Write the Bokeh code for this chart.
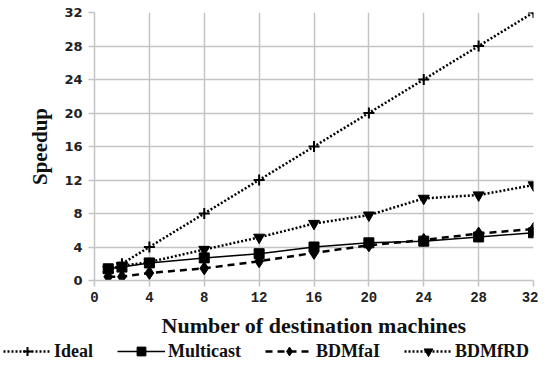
from bokeh.plotting import figure
from bokeh.models import Legend, FixedTicker, Range1d
from bokeh.layouts import column, row
from bokeh.embed import file_html
from bokeh.resources import INLINE

machines = [1, 2, 4, 8, 12, 16, 20, 24, 28, 32]
ideal = [1, 2, 4, 8, 12, 16, 20, 24, 28, 32]
multicast = [1.4, 1.6, 2.1, 2.7, 3.2, 4.0, 4.5, 4.7, 5.2, 5.7]
bdmfai = [0.45, 0.45, 0.9, 1.45, 2.3, 3.3, 4.2, 4.85, 5.6, 6.15]
bdmfrd = [1.3, 1.75, 2.2, 3.7, 5.15, 6.8, 7.8, 9.8, 10.2, 11.4]
series_names = ["Ideal", "Multicast", "BDMfaI", "BDMfRD"]
x_ticks = [0, 4, 8, 12, 16, 20, 24, 28, 32]
y_ticks = [0, 4, 8, 12, 16, 20, 24, 28, 32]

styles = [
    dict(dash="2 2", lw=2.5, marker="cross", size=11),
    dict(dash="solid", lw=1.5, marker="square", size=10),
    dict(dash="7 5", lw=2.5, marker="diamond", size=13),
    dict(dash="2 2", lw=2.5, marker="inverted_triangle", size=11),
]


def add_series(fig, xs, ys, st):
    ln = fig.line(xs, ys, line_color="black", line_width=st["lw"], line_dash=st["dash"])
    if st["marker"] == "cross":
        mk = fig.scatter(xs, ys, marker="cross", size=st["size"], line_color="black", line_width=2)
    else:
        mk = fig.scatter(xs, ys, marker=st["marker"], size=st["size"], color="black")
    return [ln, mk]


p = figure(width=538, height=340, output_backend="svg", toolbar_location=None,
           x_range=Range1d(0, 32), y_range=Range1d(0, 32),
           min_border_left=94, min_border_right=5, min_border_top=12, min_border_bottom=56)
p.outline_line_color = None

grid_col = "#c4c4c4"
p.xgrid.grid_line_color = grid_col
p.ygrid.grid_line_color = grid_col
p.xgrid.grid_line_width = 1.5
p.ygrid.grid_line_width = 1.5

for ax in (p.xaxis, p.yaxis):
    ax.axis_line_color = grid_col
    ax.axis_line_width = 1.5
    ax.major_tick_line_color = grid_col
    ax.major_tick_line_width = 1.5
    ax.major_tick_out = 6
    ax.major_tick_in = 0
    ax.minor_tick_line_color = None
    ax.major_label_text_font_style = "bold"
    ax.major_label_text_color = "#222222"
    ax.axis_label_text_font = "Liberation Serif"
    ax.axis_label_text_font_style = "bold"
    ax.axis_label_text_color = "#111111"

p.xaxis.ticker = FixedTicker(ticks=x_ticks)
p.yaxis.ticker = FixedTicker(ticks=y_ticks)
p.xaxis.major_label_text_font = "Liberation Mono"
p.xaxis.major_label_text_font_size = "14px"
p.yaxis.major_label_text_font = "DejaVu Sans"
p.yaxis.major_label_text_font_size = "13px"
p.xaxis.major_label_standoff = 5
p.yaxis.major_label_standoff = 6
p.xaxis.axis_label = "Number of destination machines"
p.yaxis.axis_label = "Speedup"
p.xaxis.axis_label_text_font_size = "22px"
p.yaxis.axis_label_text_font_size = "21px"
p.xaxis.axis_label_standoff = 8
p.yaxis.axis_label_standoff = 9

all_series = [ideal, multicast, bdmfai, bdmfrd]
for ys, st in zip(all_series, styles):
    add_series(p, machines, ys, st)

# legend strip below the chart (its data lie outside its view; only the legend shows)
lg = figure(width=538, height=22, output_backend="svg", toolbar_location=None,
            x_range=Range1d(100, 101), y_range=Range1d(100, 101),
            x_axis_location=None, y_axis_location=None,
            min_border_left=0, min_border_right=0, min_border_top=0, min_border_bottom=0)
lg.grid.visible = False
lg.outline_line_color = None
items = []
for name, ys, st in zip(series_names, all_series, styles):
    items.append((name, add_series(lg, machines, ys, st)))

legend = Legend(items=items, orientation="horizontal", location=(3, 0),
                glyph_width=48, glyph_height=22, label_standoff=3, spacing=24,
                padding=0, margin=0, border_line_color=None, background_fill_alpha=0,
                label_text_font="Liberation Serif", label_text_font_style="bold",
                label_text_font_size="18px", label_text_color="#111111")
lg.add_layout(legend, "center")

layout = column(p, row(lg), spacing=0)
open("out.html", "w").write(file_html(layout, INLINE))
